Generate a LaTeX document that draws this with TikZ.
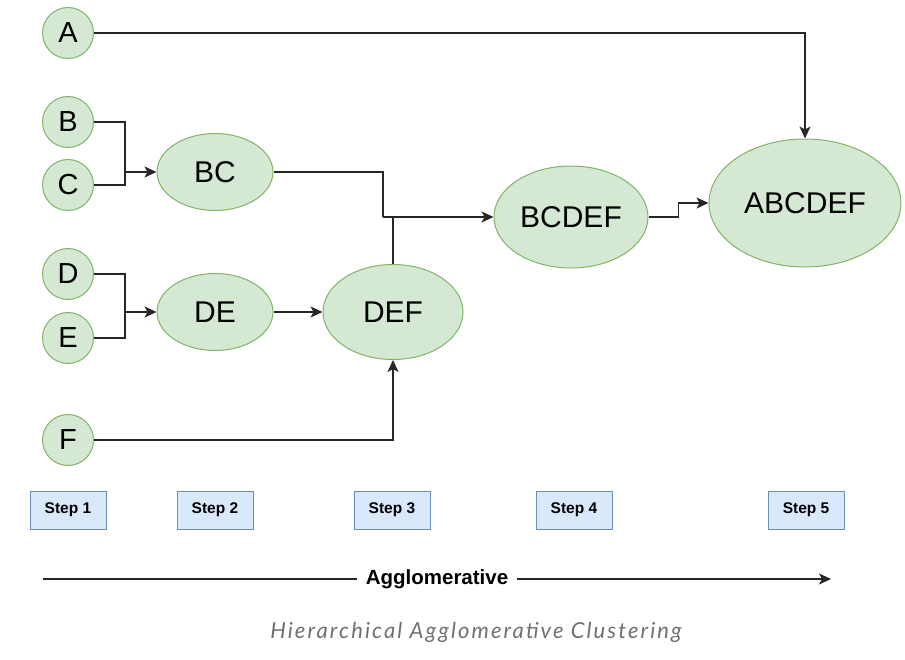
\documentclass[tikz,border=0pt]{standalone}
\usepackage{fontspec}
\setmainfont{Liberation Sans}
\newfontfamily\capfont{Lato}[LetterSpace=9.5]
\usetikzlibrary{shapes.geometric,arrows.meta,calc}
\definecolor{gfill}{HTML}{D5E8D4}
\definecolor{gline}{HTML}{82B366}
\definecolor{bfill}{HTML}{DAE8FC}
\definecolor{bline}{HTML}{6C8EBF}
\definecolor{capgray}{HTML}{707070}
\begin{document}
\begin{tikzpicture}[x=1pt,y=-1pt,
 leaf/.style={circle,draw=gline,fill=gfill,line width=1pt,minimum size=51pt,inner sep=0pt,font=\fontsize{29}{31}\selectfont},
 clus/.style={ellipse,draw=gline,fill=gfill,line width=1pt,inner sep=0pt,font=\fontsize{30}{32}\selectfont},
 stepbox/.style={rectangle,draw=bline,fill=bfill,line width=1pt,minimum width=76pt,minimum height=38pt,inner sep=0pt,font=\bfseries\fontsize{15.5}{17}\selectfont},
 link/.style={draw=black!85,line width=1.3pt},
 arr/.style={link,-{Stealth[length=12pt,width=11pt,inset=3pt]}}
]
\useasboundingbox (0,0) rectangle (905,660);

% leaves
\node[leaf] (A) at (68,33) {A};
\node[leaf] (B) at (68,122) {B};
\node[leaf] (C) at (68,185) {C};
\node[leaf] (D) at (68,274) {D};
\node[leaf] (E) at (68,338) {E};
\node[leaf] (F) at (68,440) {F};

% clusters
\node[clus,minimum width=116pt,minimum height=77pt] (BC) at (215,172) {BC};
\node[clus,minimum width=116pt,minimum height=77pt] (DE) at (215,312) {DE};
\node[clus,minimum width=140pt,minimum height=95pt] (DEF) at (393,312) {DEF};
\node[clus,minimum width=154pt,minimum height=102pt] (BCDEF) at (571,217) {BCDEF};
\node[clus,minimum width=192pt,minimum height=128pt] (ABCDEF) at (805,203) {ABCDEF};

% junctions
\coordinate (j1) at (125,172);
\coordinate (j2) at (125,312);
\coordinate (j3) at (383,217);

\draw[link] (B.east) -| (j1);
\draw[link] (C.east) -| (j1);
\draw[arr] (j1) -- (BC.west);

\draw[link] (D.east) -| (j2);
\draw[link] (E.east) -| (j2);
\draw[arr] (j2) -- (DE.west);

\draw[arr] (DE.east) -- (DEF.west);
\draw[arr] (F.east) -| (DEF.south);

\draw[link] (BC.east) -| (j3);
\draw[link] (DEF.north) -- (DEF.north |- j3);
\draw[arr] (j3) -- (BCDEF.west);

\draw[arr] (BCDEF.east) -- ++(30,0) |- (ABCDEF.west);
\draw[arr] (A.east) -| (ABCDEF.north);

% steps
\node[stepbox] (s1) at (68,510) {Step 1};
\node[stepbox] (s2) at (215,510) {Step 2};
\node[stepbox] (s3) at (392,510) {Step 3};
\node[stepbox] (s4) at (574,510) {Step 4};
\node[stepbox] (s5) at (806,510) {Step 5};

% agglomerative axis
\node[font=\bfseries\fontsize{20.5}{22}\selectfont,inner sep=9pt] (ag) at (437,579) {Agglomerative};
\coordinate (agl) at (43,579);
\coordinate (agr) at (831,579);
\draw[link] (agl) -- (ag.west);
\draw[arr] (ag.east) -- (agr);

% caption
\node[font=\capfont\itshape\fontsize{22}{24}\selectfont,text=capgray] (cap) at (476,632) {Hierarchical Agglomerative Clustering};
\end{tikzpicture}
\end{document}
